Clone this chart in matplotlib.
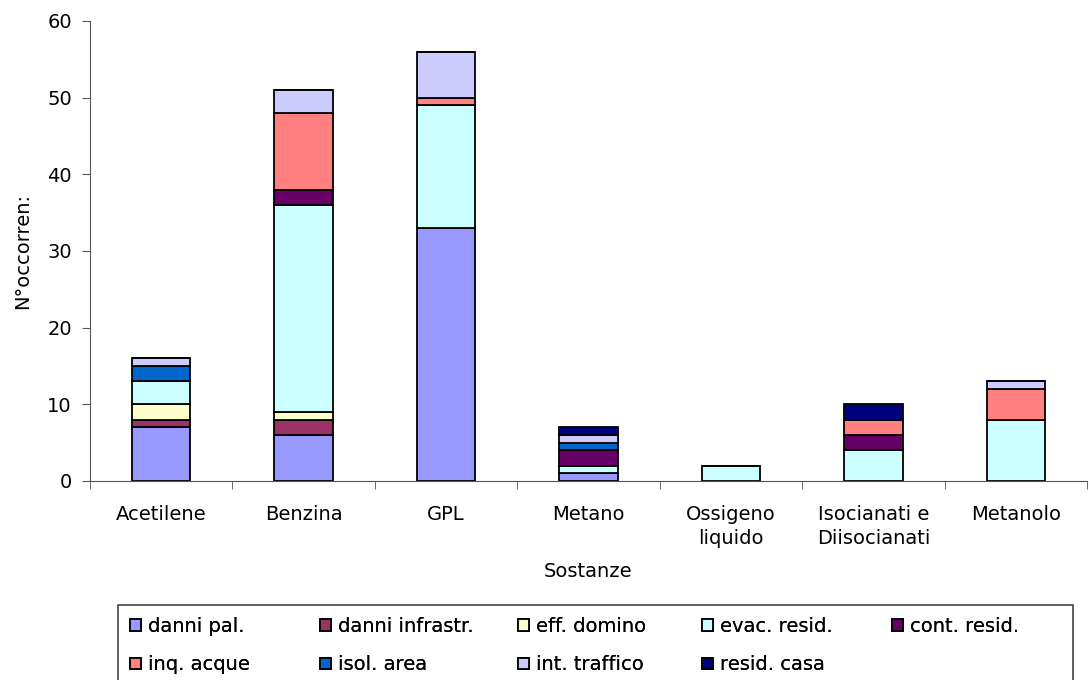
import matplotlib.pyplot as plt
import numpy as np
from matplotlib.patches import Rectangle

sostanze = ["Acetilene", "Benzina", "GPL", "Metano", "Ossigeno\nliquido",
            "Isocianati e\nDiisocianati", "Metanolo"]
serie = ["danni pal.", "danni infrastr.", "eff. domino", "evac. resid.",
         "cont. resid.", "inq. acque", "isol. area", "int. traffico", "resid. casa"]
colori = ["#9999FF", "#993366", "#FFFFCC", "#CCFFFF", "#660066",
          "#FF8080", "#0066CC", "#CCCCFF", "#000080"]

danni_pal = [7, 6, 33, 1, 0, 0, 0]
danni_infrastr = [1, 2, 0, 0, 0, 0, 0]
eff_domino = [2, 1, 0, 0, 0, 0, 0]
evac_resid = [3, 27, 16, 1, 2, 4, 8]
cont_resid = [0, 2, 0, 2, 0, 2, 0]
inq_acque = [0, 10, 1, 0, 0, 2, 4]
isol_area = [2, 0, 0, 1, 0, 0, 0]
int_traffico = [1, 3, 6, 1, 0, 0, 1]
resid_casa = [0, 0, 0, 1, 0, 2, 0]

valori = [danni_pal, danni_infrastr, eff_domino, evac_resid, cont_resid,
          inq_acque, isol_area, int_traffico, resid_casa]

W, H = 1089, 680
plt.rcParams['font.family'] = ['DejaVu Sans']
fig = plt.figure(figsize=(W/100, H/100), dpi=100)
ax = fig.add_axes([90/W, 1-481/H, 1-90/W-2/W, 460/H])

x = np.arange(len(sostanze))
base = np.zeros(len(sostanze))
handles = []
for nome, v, c in zip(serie, valori, colori):
    v = np.array(v, dtype=float)
    b = ax.bar(x, v, width=0.41, bottom=base, color=c, edgecolor="black",
               linewidth=1.3, label=nome)
    handles.append(b)
    base += v

fs = 14
ax.set_xlim(-0.5, len(sostanze) - 0.5)
ax.set_ylim(0, 60)
ax.set_yticks(range(0, 61, 10))
ax.tick_params(axis='y', labelsize=fs, length=6, color="#555555", pad=7)
ax.set_xticks(x)
ax.set_xticklabels(sostanze, fontsize=fs, linespacing=1.35)
ax.tick_params(axis='x', length=0, pad=17)
ax.set_xticks(np.arange(-0.5, len(sostanze), 1), minor=True)
ax.tick_params(axis='x', which='minor', length=6, color="#555555")
for s in ["top", "right"]:
    ax.spines[s].set_visible(False)
for s in ["left", "bottom"]:
    ax.spines[s].set_color("#555555")
ax.set_xlabel("Sostanze", fontsize=fs, labelpad=10)
ax.set_ylabel("N°occorren:", fontsize=fs, labelpad=11)

# legend frame (runs off the bottom edge as in the reference)
fig.add_artist(Rectangle((118/W, -0.05), (1073-118)/W, 0.05 + (H-605)/H,
                         transform=fig.transFigure, fill=False,
                         edgecolor="#333333", linewidth=1.1))

# one small legend per column so the columns sit on a fixed grid
col_x = [130, 320, 518, 702, 892]
for j, cx in enumerate(col_x):
    idx = [j, j + 5] if j + 5 < len(serie) else [j]
    lg = fig.legend(handles=[handles[i] for i in idx],
                    labels=[serie[i] for i in idx],
                    loc="upper left", bbox_to_anchor=(cx/W, 1-617/H),
                    fontsize=fs, frameon=False,
                    handlelength=0.55, handleheight=0.55, handletextpad=0.35,
                    labelspacing=1.0, borderpad=0, borderaxespad=0)
    fig.add_artist(lg)

fig.savefig("out.png", dpi=100)
